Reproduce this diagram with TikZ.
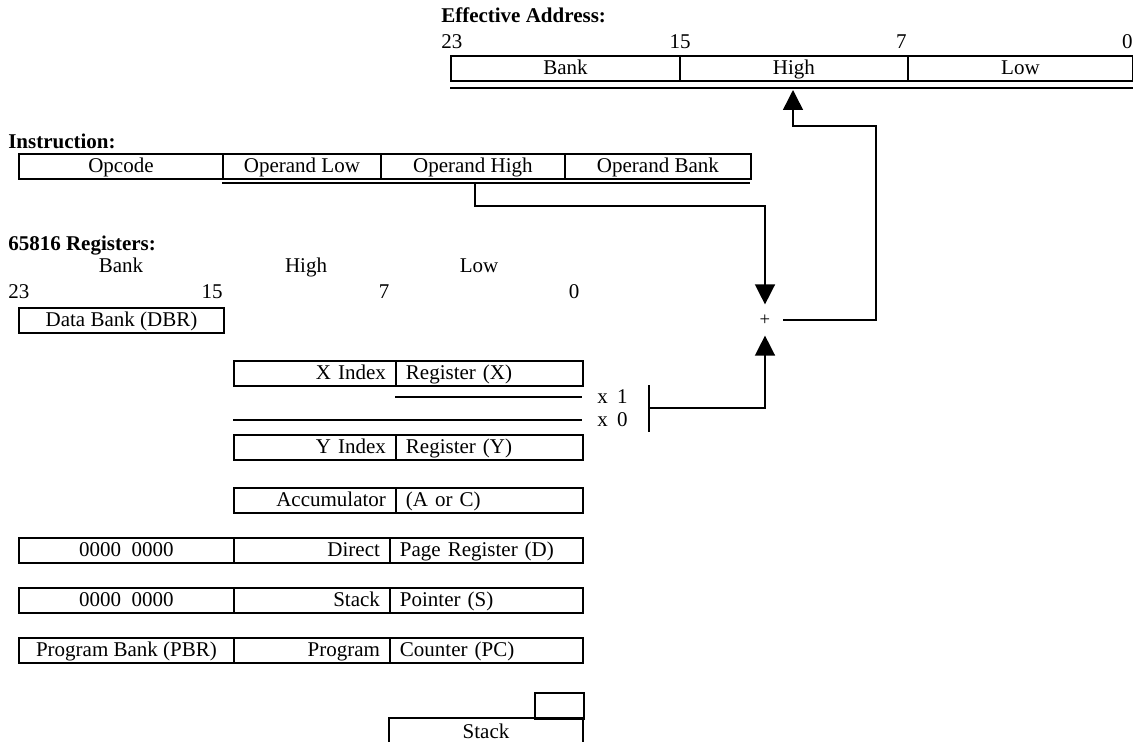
\documentclass[tikz,border=0pt]{standalone}
\usepackage{fontspec}
\setmainfont{Liberation Serif}
\usetikzlibrary{arrows.meta}
\begin{document}
\begin{tikzpicture}[x=0.75pt,y=-0.75pt,
  every node/.style={font=\fontsize{15.75}{18}\selectfont},
  lbl/.style={font=\fontsize{15.75}{18}\selectfont\bfseries, anchor=base west, inner sep=0pt},
  txt/.style={inner sep=0pt},
  cell/.style={draw, line width=1.4pt, anchor=north west, minimum height=18.75pt,
    inner ysep=0pt, text height=11.5pt, text depth=2.5pt},
  cc/.style={cell, inner xsep=0pt, minimum width=#1*0.75pt},
  cr/.style={cell, inner xsep=7.5pt, minimum width=#1*0.75pt, text width=#1*0.75pt-15pt, align=right},
  cl/.style={cell, inner xsep=7.5pt, minimum width=#1*0.75pt, text width=#1*0.75pt-15pt, align=left},
  rule/.style={line width=1.1pt},
  conn/.style={line width=1.1pt},
  arr/.style={-{Triangle[length=15pt,width=15pt]}}
]
\useasboundingbox (0,0) rectangle (1133,742);

% ---------- Effective address ----------
\node[lbl] (ealbl) at (441,23) {Effective Address:};
\node[txt, anchor=base west] (ea23) at (441,49) {23};
\node[txt, anchor=base] (ea15) at (680,49) {15};
\node[txt, anchor=base east] (ea7) at (907,49) {7};
\node[txt, anchor=base east] (ea0) at (1133,49) {0};
\node[cc=229] (eaB) at (450,55) {Bank};
\node[cc=228] (eaH) at (679,55) {High};
\node[cc=225] (eaL) at (907,55) {Low};
\coordinate (eaLineL) at (450,88);
\coordinate (eaLineR) at (1133,88);
\draw[rule] (eaLineL) -- (eaLineR);
\coordinate (eaTip) at (793,90);

% ---------- Instruction ----------
\node[lbl] (inlbl) at (8,148) {Instruction:};
\node[cc=204] (opc) at (18,153) {Opcode};
\node[cc=158] (opL) at (222,153) {Operand Low};
\node[cc=184] (opH) at (380,153) {Operand High};
\node[cc=186] (opB) at (564,153) {Operand Bank};
\coordinate (ulL) at (222,183);
\coordinate (ulR) at (750,183);
\draw[rule] (ulL) -- (ulR);
\coordinate (tap) at (475,183);

% ---------- adder ----------
\node[txt, font=\fontsize{14}{15}\selectfont, minimum width=27pt, minimum height=23pt] (plus) at (765,320) {+};

% connectors
\draw[conn, arr] (tap) -- (475,206) -| (plus.north);
\draw[conn, arr] (plus.east) -| (876,126) -| (eaTip);

% ---------- Registers ----------
\node[lbl] (reglbl) at (8,250) {65816 Registers:};
\node[txt, anchor=base] (rBank) at (121,272) {Bank};
\node[txt, anchor=base] (rHigh) at (306,272) {High};
\node[txt, anchor=base] (rLow) at (479,272) {Low};
\node[txt, anchor=base west] (r23) at (8,298) {23};
\node[txt, anchor=base] (r15) at (212,298) {15};
\node[txt, anchor=base] (r7) at (384,298) {7};
\node[txt, anchor=base] (r0) at (574,298) {0};

\node[cc=205] (dbr) at (18,307) {Data Bank (DBR)};

\node[cr=162] (xA) at (233,360) {X Index};
\node[cl=187] (xB) at (395,360) {Register (X)};

\coordinate (x1L) at (395,397);
\coordinate (x1R) at (582,397);
\coordinate (x0L) at (233,420);
\coordinate (x0R) at (582,420);
\draw[rule] (x1L) -- (x1R);
\draw[rule] (x0L) -- (x0R);
\node[txt, anchor=base west] (sel1) at (597,403) {x\hspace{7pt}1};
\node[txt, anchor=base west] (sel0) at (597,426) {x\hspace{7pt}0};
\coordinate (barT) at (649,385);
\coordinate (barB) at (649,432);
\coordinate (bar) at (649,408);
\draw[conn] (barT) -- (barB);
\draw[conn, arr] (bar) -| (plus.south);

\node[cr=162] (yA) at (233,434) {Y Index};
\node[cl=187] (yB) at (395,434) {Register (Y)};

\node[cr=162] (aA) at (233,487) {Accumulator};
\node[cl=187] (aB) at (395,487) {(A or C)};

\node[cc=215] (dA) at (18,537) {0000\hspace{8pt}0000};
\node[cr=156] (dB) at (233,537) {Direct};
\node[cl=193] (dC) at (389,537) {Page Register (D)};

\node[cc=215] (sA) at (18,587) {0000\hspace{8pt}0000};
\node[cr=156] (sB) at (233,587) {Stack};
\node[cl=193] (sC) at (389,587) {Pointer (S)};

\node[cc=215] (pA) at (18,637) {Program Bank (PBR)};
\node[cr=156] (pB) at (233,637) {Program};
\node[cl=193] (pC) at (389,637) {Counter (PC)};

% ---------- Stack ----------
\node[cc=49, minimum height=19.5pt] (stTop) at (534,692) {};
\node[txt, anchor=base] (stk) at (486,738) {Stack};
\draw[line width=1.4pt] (389,743) -- (389,718) -- (583,718) -- (583,743);
\end{tikzpicture}
\end{document}
